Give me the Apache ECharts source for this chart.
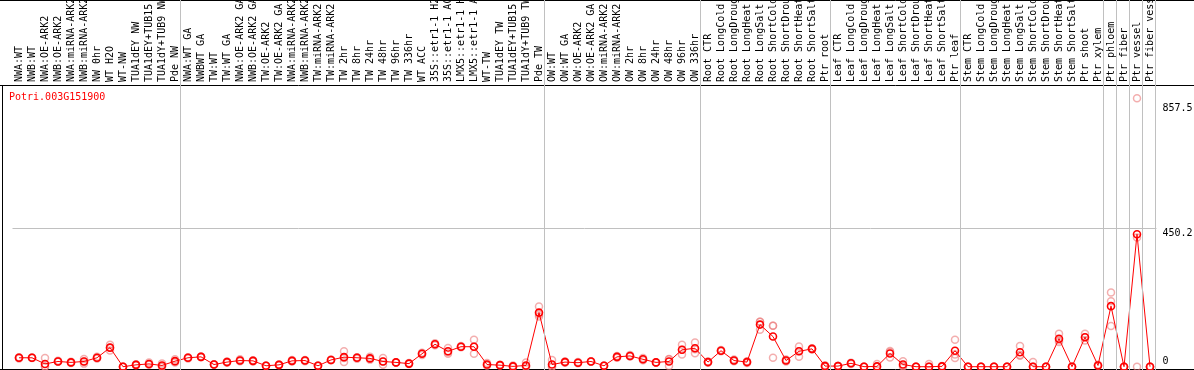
<!DOCTYPE html>
<html>
<head>
<meta charset="utf-8">
<script src="https://cdn.jsdelivr.net/npm/echarts@6/dist/echarts.min.js"></script>
<style>
  html, body { margin: 0; padding: 0; background: #fff; }
  #expr { width: 1194px; height: 370px; }
</style>
</head>
<body>
<div id="expr"></div>
<script>
// gene shown in the plot
var geneId = 'Potri.003G151900';

// sample names (cut to 14 chars, as in the source picture)
var samples = [
  'NWA:WT', 'NWB:WT', 'NWA:OE-ARK2', 'NWB:OE-ARK2', 'NWA:miRNA-ARK2', 'NWB:miRNA-ARK2',
  'NW 0hr', 'WT H2O', 'WT-NW', 'TUA1dEY NW', 'TUA1dEY+TUB15', 'TUA1dY+TUB9 NW', 'Pde NW',
  'NWA:WT GA', 'NWBWT GA', 'TW:WT', 'TW:WT GA', 'NWA:OE-ARK2 GA', 'NWB:OE-ARK2 GA',
  'TW:OE-ARK2', 'TW:OE-ARK2 GA', 'NWA:miRNA-ARK2', 'NWB:miRNA-ARK2', 'TW:miRNA-ARK2',
  'TW:miRNA-ARK2', 'TW 2hr', 'TW 8hr', 'TW 24hr', 'TW 48hr', 'TW 96hr', 'TW 336hr',
  'WT ACC', '35S::etr1-1 H2', '35S::etr1-1 AC', 'LMX5::etr1-1 H', 'LMX5::etr1-1 A',
  'WT-TW', 'TUA1dEY TW', 'TUA1dEY+TUB15', 'TUA1dY+TUB9 TW', 'Pde TW',
  'OW:WT', 'OW:WT GA', 'OW:OE-ARK2', 'OW:OE-ARK2 GA', 'OW:miRNA-ARK2', 'OW:miRNA-ARK2',
  'OW 2hr', 'OW 8hr', 'OW 24hr', 'OW 48hr', 'OW 96hr', 'OW 336hr',
  'Root CTR', 'Root LongCold', 'Root LongDroug', 'Root LongHeat', 'Root LongSalt',
  'Root ShortCold', 'Root ShortDrou', 'Root ShortHeat', 'Root ShortSalt', 'Ptr root',
  'Leaf CTR', 'Leaf LongCold', 'Leaf LongDroug', 'Leaf LongHeat', 'Leaf LongSalt',
  'Leaf ShortCold', 'Leaf ShortDrou', 'Leaf ShortHeat', 'Leaf ShortSalt', 'Ptr leaf',
  'Stem CTR', 'Stem LongCold', 'Stem LongDroug', 'Stem LongHeat', 'Stem LongSalt',
  'Stem ShortCold', 'Stem ShortDrou', 'Stem ShortHeat', 'Stem ShortSalt', 'Ptr shoot',
  'Ptr xylem', 'Ptr phloem', 'Ptr fiber', 'Ptr vessel', 'Ptr fiber vess'
];

// mean expression per sample
var means = [
  29, 29, 9, 17, 14, 17, 29, 62, 0, 6,
  9, 4, 18, 29, 32, 7, 15, 20, 19, 3,
  6, 19, 20, 3, 22, 31, 29, 27, 17, 14,
  10, 42, 73, 50, 65, 65, 7, 5, 1, 4,
  176, 7, 15, 13, 17, 3, 32, 35, 24, 14,
  17, 55, 60, 15, 52, 20, 15, 137, 98, 20,
  50, 58, 2, 2, 11, 0, 1, 43, 7, 0,
  0, 1, 52, 0, 0, 0, 0, 47, 0, 0,
  91, 0, 96, 4, 197, 0, 431, 0
];

// replicate values (pale circles)
var rep1 = [
  31, 29, 28, 19, 12, 25, 32, 71, 0, 8,
  14, 10, 24, 31, 32, 7, 17, 24, 21, 3,
  7, 22, 22, 3, 23, 50, 31, 32, 28, 14,
  12, 45, 76, 61, 67, 88, 12, 6, 4, 14,
  196, 22, 17, 15, 18, 3, 35, 38, 28, 14,
  24, 71, 79, 17, 54, 23, 18, 146, 133, 23,
  66, 60, 5, 2, 13, 0, 9, 48, 18, 0,
  9, 2, 88, 0, 0, 0, 0, 67, 15, 0,
  107, 0, 107, 6, 241, 0, 873, 0
];
var rep2 = [
  27, 30, 1, 16, 16, 10, 27, 62, 0, 5,
  6, 1, 14, 27, 33, 6, 13, 18, 17, 3,
  5, 17, 18, 3, 21, 28, 26, 23, 17, 14,
  9, 38, 70, 47, 63, 65, 4, 4, 0, 0,
  170, 0, 13, 11, 16, 3, 29, 33, 21, 14,
  2, 55, 57, 13, 50, 18, 12, 146, 133, 17,
  50, 56, 0, 2, 9, 0, 0, 30, 2, 0,
  0, 0, 40, 0, 0, 0, 0, 38, 0, 0,
  86, 0, 96, 3, 213, 0, 420, 0
];
var rep3 = [
  29, 28, 0, 17, 14, 17, 28, 53, 0, 6,
  8, 1, 17, 29, 31, 8, 15, 19, 19, 3,
  6, 19, 20, 3, 22, 15, 30, 27, 6, 14,
  10, 43, 73, 42, 65, 42, 5, 5, 0, 0,
  163, 0, 16, 13, 17, 3, 32, 35, 24, 14,
  25, 40, 44, 15, 52, 20, 15, 120, 29, 20,
  32, 58, 1, 2, 11, 0, 0, 51, 1, 0,
  0, 1, 28, 0, 0, 0, 0, 36, 0, 0,
  80, 0, 85, 3, 132, 0, 0, 0
];

// right-hand tick labels and the one horizontal guide
var yTicks = [0, 450.2, 857.5];
var yGuides = [450.2];
// sample indexes where a group separator is drawn
var groupEdges = [0, 13, 41, 53, 63, 73, 84, 85, 86, 87, 88];

var repPoints = [];
[rep1, rep2, rep3].forEach(function (rep) {
  rep.forEach(function (v, i) { repPoints.push([i, v]); });
});

var mono = 'DejaVu Sans Mono';
var chart = echarts.init(document.getElementById('expr'), null, { renderer: 'canvas' });

chart.setOption({
  animation: false,
  backgroundColor: '#fff',
  title: {
    text: geneId,
    left: 9, top: 92, padding: 0,
    textStyle: { color: '#ff0000', fontSize: 10, fontWeight: 'normal', fontFamily: mono }
  },
  grid: [
    { left: 12.5, width: 1144, top: 85, height: 284, outerBoundsMode: 'none', containLabel: false },
    { left: 12.5, width: 1144, top: 0, height: 370, outerBoundsMode: 'none', containLabel: false }
  ],
  xAxis: [
    {
      type: 'category', gridIndex: 0, position: 'top', data: samples, boundaryGap: true,
      axisLine: { show: false }, axisTick: { show: false }, splitLine: { show: false },
      axisLabel: { interval: 0, rotate: 90, margin: 3, color: '#000', fontSize: 10, fontFamily: mono }
    },
    { type: 'value', gridIndex: 1, min: 0.1, max: 88.1, show: false, splitLine: { show: false } }
  ],
  yAxis: [
    { type: 'value', gridIndex: 0, min: -7.5, max: 916.4, show: false, splitLine: { show: false } },
    { type: 'value', gridIndex: 1, min: 0, max: 1, show: false, splitLine: { show: false } }
  ],
  series: [
    {
      // vertical group separators, full height
      type: 'line', xAxisIndex: 1, yAxisIndex: 1, data: [], z: 1, silent: true,
      markLine: {
        silent: true, symbol: 'none', animation: false,
        lineStyle: { color: '#c0c0c0', width: 1, type: 'solid' },
        label: { show: false },
        data: groupEdges.map(function (e) { return { xAxis: e }; })
      }
    },
    {
      // horizontal guide + right labels
      type: 'line', xAxisIndex: 0, yAxisIndex: 0, data: [], z: 1, silent: true,
      markLine: {
        silent: true, symbol: 'none', animation: false,
        data: yTicks.map(function (v) {
          return {
            yAxis: v,
            lineStyle: { color: yGuides.indexOf(v) >= 0 ? '#c0c0c0' : 'rgba(0,0,0,0)', width: 1, type: 'solid' },
            label: {
              show: true, position: 'end', distance: 6,
              verticalAlign: v === 0 ? 'bottom' : 'top',
              formatter: String(v),
              color: '#000', fontSize: 10, fontFamily: mono
            }
          };
        })
      }
    },
    {
      type: 'scatter', xAxisIndex: 0, yAxisIndex: 0, data: repPoints, z: 2,
      symbol: 'circle', symbolSize: 7,
      itemStyle: { color: 'rgba(255,255,255,0)', borderColor: 'rgba(235,120,120,0.75)', borderWidth: 1.5 }
    },
    {
      type: 'line', xAxisIndex: 0, yAxisIndex: 0, data: means, z: 3,
      symbol: 'circle', symbolSize: 7, showAllSymbol: true,
      lineStyle: { color: '#ff0000', width: 1 },
      itemStyle: { color: 'rgba(255,255,255,0)', borderColor: '#ff0000', borderWidth: 1.6 }
    }
  ],
  graphic: [
    { type: 'line', silent: true, shape: { x1: 0, y1: 0.5, x2: 1194, y2: 0.5 }, style: { stroke: '#000', lineWidth: 1 } },
    { type: 'line', silent: true, shape: { x1: 0, y1: 85.5, x2: 1194, y2: 85.5 }, style: { stroke: '#000', lineWidth: 1 } },
    { type: 'line', silent: true, shape: { x1: 0, y1: 369.5, x2: 1194, y2: 369.5 }, style: { stroke: '#000', lineWidth: 1 } },
    { type: 'line', silent: true, shape: { x1: 2.5, y1: 85, x2: 2.5, y2: 370 }, style: { stroke: '#000', lineWidth: 1 } }
  ]
});
</script>
</body>
</html>
